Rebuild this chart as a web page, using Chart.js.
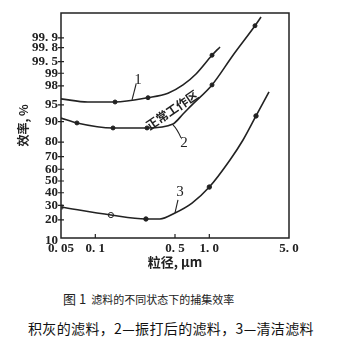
<!DOCTYPE html>
<html>
<head>
<meta charset="utf-8">
<script src="https://cdn.jsdelivr.net/npm/chart.js@4.4.0/dist/chart.umd.min.js"></script>
<style>
  html, body { margin: 0; padding: 0; background: #fff; }
  #wrap { position: relative; width: 341px; height: 338px; }
  #box { position: absolute; left: 0; top: 0; width: 341px; height: 280px; }
  .cap1 { position: absolute; left: 63px; top: 291px; line-height: 16px; font-size: 11px; font-family: "Noto Sans CJK SC"; color: #222; white-space: nowrap; }
  .cap1 span { font-size: 13px; margin-right: 5px; }
  .cap2 { position: absolute; left: 28px; top: 318px; line-height: 20px; font-size: 14px; letter-spacing: 0.35px; font-family: "Noto Sans CJK SC"; color: #111; white-space: nowrap; }
</style>
</head>
<body>
<div id="wrap">
  <div id="box"><canvas id="effChart"></canvas></div>
  <div class="cap1"><span>图 1</span>滤料的不同状态下的捕集效率</div>
  <div class="cap2">积灰的滤料，2—振打后的滤料，3—清洁滤料</div>
</div>
<script>
// Axis ticks: particle size (µm, log) and efficiency (%, probability scale)
const xTicks = [0.05, 0.1, 0.5, 1.0, 5.0];
const xTickText = ["0. 05", "0. 1", "0. 5", "1. 0", "5. 0"];
const yTicks = [10, 20, 30, 40, 50, 60, 70, 80, 90, 95, 98, 99, 99.5, 99.8, 99.9];
const yTickText = ["10", "20", "30", "40", "50", "60", "70", "80", "90", "95", "98", "99", "99. 5", "99. 8", "99. 9"];

// 1 - dust-loaded filter
const curve1X = [0.05, 0.086, 0.149, 0.29, 0.434, 0.588, 0.764, 1.056, 1.241];
const curve1Y = [96.2, 95.6, 95.6, 96.4, 97.1, 98.1, 98.96, 99.67, 99.81];
const curve1MarkX = [0.149, 0.29, 1.056];
const curve1MarkY = [95.6, 96.4, 99.67];

// 2 - filter after rapping
const curve2X = [0.05, 0.069, 0.143, 0.284, 0.48, 0.588, 0.705, 1.056, 1.614, 2.516, 2.841];
const curve2Y = [91.3, 89.5, 87.4, 87.4, 89.1, 92.6, 95.0, 98.1, 99.67, 99.96, 99.98];
const curve2MarkX = [0.069, 0.143, 0.284, 1.056, 2.516];
const curve2MarkY = [89.5, 87.4, 87.4, 98.1, 99.96];

// 3 - clean filter
const curve3X = [0.05, 0.137, 0.278, 0.369, 0.5, 0.705, 1.0, 1.518, 1.975, 2.568, 3.339];
const curve3Y = [28.7, 23.1, 20.6, 20.6, 24.5, 31.7, 44.8, 67.5, 81.2, 92.0, 97.3];
const curve3MarkX = [0.05, 0.137, 0.278, 1.0, 2.568];
const curve3MarkY = [28.7, 23.1, 20.6, 44.8, 92.0];

// curve numbers with their leader lines, and the zone label
const tagText = ["1", "2", "3"];
const tagX = [0.237, 0.6, 0.553];
const tagY = [98.54, 79.4, 40.6];
const leadFromX = [0.21, 0.48, 0.5];
const leadFromY = [95.99, 88.7, 24.5];
const leadToX = [0.228, 0.565, 0.531];
const leadToY = [98.19, 82.4, 34.1];
const zoneText = "正常工作区";
const zoneX = 0.471;
const zoneY = 93.75;

const ink = "#222";

// percent -> standard normal quantile (Acklam's approximation)
function probit(pct) {
    const p = pct / 100;
    const a = [-39.69683028665376, 220.9460984245205, -275.9285104469687, 138.357751867269, -30.66479806614716, 2.506628277459239];
    const b = [-54.47609879822406, 161.5858368580409, -155.6989798598866, 66.80131188771972, -13.28068155288572];
    const c = [-0.007784894002430293, -0.3223964580411365, -2.400758277161838, -2.549732539343734, 4.374664141464968, 2.938163982698783];
    const d = [0.007784695709041462, 0.3224671290700398, 2.445134137142996, 3.754408661907416];
    const pl = 0.02425;
    let q, r;
    if (p < pl) {
        q = Math.sqrt(-2 * Math.log(p));
        return (((((c[0] * q + c[1]) * q + c[2]) * q + c[3]) * q + c[4]) * q + c[5]) /
            ((((d[0] * q + d[1]) * q + d[2]) * q + d[3]) * q + 1);
    }
    if (p > 1 - pl) {
        q = Math.sqrt(-2 * Math.log(1 - p));
        return -(((((c[0] * q + c[1]) * q + c[2]) * q + c[3]) * q + c[4]) * q + c[5]) /
            ((((d[0] * q + d[1]) * q + d[2]) * q + d[3]) * q + 1);
    }
    q = p - 0.5;
    r = q * q;
    return (((((a[0] * r + a[1]) * r + a[2]) * r + a[3]) * r + a[4]) * r + a[5]) * q /
        (((((b[0] * r + b[1]) * r + b[2]) * r + b[3]) * r + b[4]) * r + 1);
}

const pts = (xs, ys) => xs.map((x, i) => ({ x: x, y: probit(ys[i]) }));

function curve(xs, ys) {
    return {
        data: pts(xs, ys),
        borderColor: ink,
        borderWidth: 1.6,
        pointRadius: 0,
        cubicInterpolationMode: "monotone",
        fill: false,
    };
}

function marks(xs, ys) {
    return {
        data: pts(xs, ys),
        showLine: false,
        pointRadius: 2,
        pointBorderWidth: 1,
        pointBackgroundColor: ink,
        pointBorderColor: ink,
    };
}

// clean filter: first point is an open square, second an open circle
const marks3 = marks(curve3MarkX, curve3MarkY);
marks3.pointStyle = (ctx) => (ctx.dataIndex === 0 ? "rect" : "circle");
marks3.pointRadius = (ctx) => (ctx.dataIndex < 2 ? 2.6 : 2.2);
marks3.pointBackgroundColor = (ctx) => (ctx.dataIndex < 2 ? "#fff" : ink);

const overlayPlugin = {
    id: "overlay",
    afterDatasetsDraw(chart) {
        const { ctx, chartArea: a, scales: { x, y } } = chart;
        ctx.save();
        ctx.strokeStyle = ink;
        ctx.lineWidth = 1.5;
        ctx.strokeRect(a.left, a.top, a.right - a.left, a.bottom - a.top);

        // short tick marks on the axes
        ctx.lineWidth = 1.2;
        ctx.beginPath();
        yTicks.forEach((v) => {
            const py = y.getPixelForValue(probit(v));
            if (py > a.bottom - 1) return;
            ctx.moveTo(a.left - 3, py);
            ctx.lineTo(a.left + 3, py);
        });
        xTicks.slice(1, -1).forEach((v) => {
            const px = x.getPixelForValue(v);
            ctx.moveTo(px, a.bottom);
            ctx.lineTo(px, a.bottom - 4);
        });
        ctx.stroke();

        // leaders and curve numbers
        ctx.lineWidth = 1.1;
        tagText.forEach((t, i) => {
            const x0 = x.getPixelForValue(leadFromX[i]);
            const y0 = y.getPixelForValue(probit(leadFromY[i]));
            const x1 = x.getPixelForValue(leadToX[i]);
            const y1 = y.getPixelForValue(probit(leadToY[i]));
            ctx.beginPath();
            ctx.moveTo(x0, y0);
            if (i === 1) {
                ctx.quadraticCurveTo(x1 - 4, y0 + 4, x1, y1);
            } else {
                ctx.lineTo(x1, y1);
            }
            ctx.stroke();
            ctx.fillStyle = ink;
            ctx.font = '15px "Liberation Serif"';
            ctx.textAlign = "center";
            ctx.textBaseline = "middle";
            ctx.fillText(t, x.getPixelForValue(tagX[i]), y.getPixelForValue(probit(tagY[i])));
        });

        // zone label between curves 1 and 2
        ctx.translate(x.getPixelForValue(zoneX), y.getPixelForValue(probit(zoneY)));
        ctx.rotate(-34 * Math.PI / 180);
        ctx.font = 'bold 12px "Noto Sans CJK SC"';
        ctx.textAlign = "center";
        ctx.textBaseline = "middle";
        ctx.fillText(zoneText, 0, 0);
        ctx.restore();
    },
};

const tickFont = { family: '"Liberation Serif"', size: 13, weight: "bold" };

new Chart(document.getElementById("effChart").getContext("2d"), {
    type: "line",
    data: {
        datasets: [
            curve(curve1X, curve1Y),
            curve(curve2X, curve2Y),
            curve(curve3X, curve3Y),
            marks(curve1MarkX, curve1MarkY),
            marks(curve2MarkX, curve2MarkY),
            marks3,
        ],
    },
    options: {
        responsive: true,
        maintainAspectRatio: false,
        animation: false,
        layout: { padding: { top: 13, right: 52, left: 0, bottom: 0 } },
        plugins: {
            legend: { display: false },
            tooltip: { enabled: false },
        },
        scales: {
            x: {
                type: "logarithmic",
                min: 0.05,
                max: 5,
                afterBuildTicks: (scale) => {
                    scale.ticks = xTicks.map((v) => ({ value: v }));
                },
                afterFit: (scale) => {
                    scale.height = 42;
                },
                grid: { display: false, drawTicks: false },
                border: { display: false },
                ticks: {
                    autoSkip: false,
                    maxRotation: 0,
                    padding: 3,
                    color: ink,
                    font: tickFont,
                    callback: (v, i) => xTickText[i],
                },
                title: {
                    display: true,
                    text: "粒径, μm",
                    color: ink,
                    font: { family: '"Noto Sans CJK SC"', size: 13, weight: "bold" },
                    padding: { top: 0, bottom: 10 },
                },
            },
            y: {
                type: "linear",
                min: -1.231,
                max: 3.628,
                afterBuildTicks: (scale) => {
                    scale.ticks = yTicks.map((v) => ({ value: probit(v) }));
                },
                afterFit: (scale) => {
                    scale.width = 61;
                },
                grid: { display: false, drawTicks: false },
                border: { display: false },
                ticks: {
                    autoSkip: false,
                    padding: 3,
                    color: ink,
                    font: tickFont,
                    callback: (v, i) => yTickText[i],
                },
                title: {
                    display: true,
                    text: "效率, %",
                    color: ink,
                    font: { family: '"Noto Sans CJK SC"', size: 12, weight: "bold" },
                    padding: { top: 16, bottom: 0 },
                },
            },
        },
    },
    plugins: [overlayPlugin],
});
</script>
</body>
</html>
